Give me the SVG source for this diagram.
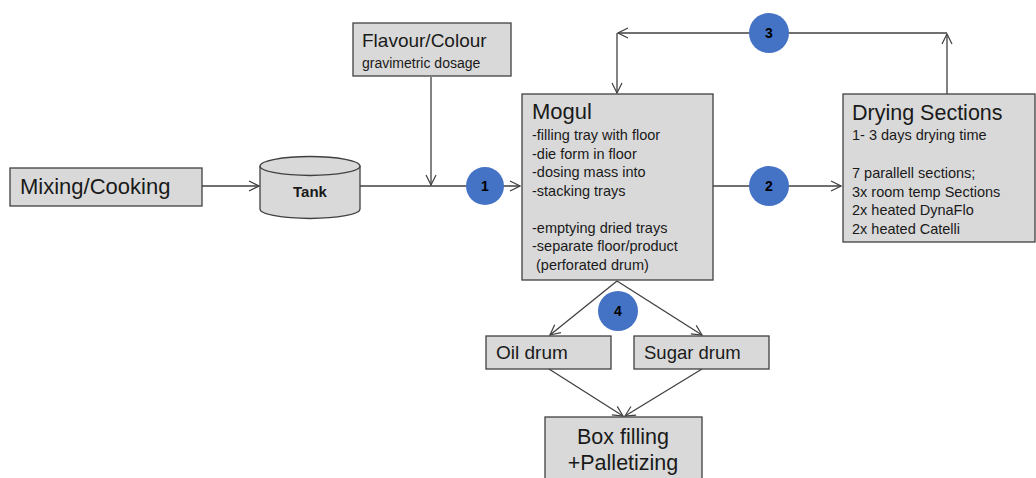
<svg xmlns="http://www.w3.org/2000/svg" width="1036" height="478" viewBox="0 0 1036 478">
<defs>
<marker id="arr" viewBox="0 0 12 12" refX="11" refY="6" markerWidth="12" markerHeight="12" markerUnits="userSpaceOnUse" orient="auto">
<path d="M1,1 L11,6 L1,11" fill="none" stroke="#404040" stroke-width="1.2"/>
</marker>
<style>
.box{fill:#d9d9d9;stroke:#404040;stroke-width:1.3}
.t{font-family:"Liberation Sans",Arial,sans-serif;fill:#1a1a1a}
.big{font-size:21.5px}
.sm{font-size:14.5px}
.ln{fill:none;stroke:#404040;stroke-width:1.3}
.c{fill:#4472c4}
.n{font-family:"Liberation Sans",Arial,sans-serif;font-size:14px;font-weight:bold;fill:#000;text-anchor:middle}
</style>
</defs>
<rect width="1036" height="478" fill="#ffffff"/>
<g id="connectors">
<line class="ln" x1="202" y1="186" x2="259" y2="186" marker-end="url(#arr)"/>
<line class="ln" x1="360" y1="186" x2="520" y2="186" marker-end="url(#arr)"/>
<line class="ln" x1="431" y1="77" x2="431" y2="185" marker-end="url(#arr)"/>
<line class="ln" x1="713" y1="186" x2="841" y2="186" marker-end="url(#arr)"/>
<line class="ln" x1="947" y1="94" x2="947" y2="34" marker-end="url(#arr)"/>
<line class="ln" x1="947" y1="33" x2="618" y2="33" marker-end="url(#arr)"/>
<line class="ln" x1="617" y1="33" x2="617" y2="93" marker-end="url(#arr)"/>
<line class="ln" x1="617" y1="281" x2="550" y2="335" marker-end="url(#arr)"/>
<line class="ln" x1="617" y1="281" x2="702" y2="335" marker-end="url(#arr)"/>
<line class="ln" x1="549" y1="369" x2="623" y2="416" marker-end="url(#arr)"/>
<line class="ln" x1="702" y1="369" x2="625" y2="416" marker-end="url(#arr)"/>
</g>
<g id="mixing">
<rect class="box" x="10" y="168" width="192" height="38"/>
<text class="t" x="20" y="194" font-size="22">Mixing/Cooking</text>
</g>
<g id="tank">
<path class="box" d="M260,166 L260,209 A50,9.5 0 0 0 360,209 L360,166"/>
<ellipse class="box" cx="310" cy="166" rx="50" ry="9.5"/>
<text class="t" x="310" y="197" font-size="15" font-weight="bold" text-anchor="middle">Tank</text>
</g>
<g id="flavour">
<rect class="box" x="353" y="23" width="158" height="53"/>
<text class="t" x="362" y="47" font-size="19">Flavour/Colour</text>
<text class="t" x="362" y="68" font-size="14">gravimetric dosage</text>
</g>
<g id="mogul">
<rect class="box" x="522" y="94" width="191" height="186"/>
<text class="t" x="532" y="119" font-size="22">Mogul</text>
<text class="t sm" x="532" y="140">-filling tray with floor</text>
<text class="t sm" x="532" y="158.5">-die form in floor</text>
<text class="t sm" x="532" y="177">-dosing mass into</text>
<text class="t sm" x="532" y="195.5">-stacking trays</text>
<text class="t sm" x="532" y="232.5">-emptying dried trays</text>
<text class="t sm" x="532" y="251">-separate floor/product</text>
<text class="t sm" x="536" y="269.5">(perforated drum)</text>
</g>
<g id="drying">
<rect class="box" x="843" y="94" width="192" height="148"/>
<text class="t" x="852" y="120" font-size="21.5">Drying Sections</text>
<text class="t sm" x="852" y="140">1- 3 days drying time</text>
<text class="t sm" x="852" y="178">7 parallell sections;</text>
<text class="t sm" x="852" y="196.5">3x room temp Sections</text>
<text class="t sm" x="852" y="215">2x heated DynaFlo</text>
<text class="t sm" x="852" y="233.5">2x heated Catelli</text>
</g>
<g id="oil">
<rect class="box" x="486" y="336" width="125" height="33"/>
<text class="t" x="496" y="359" font-size="19">Oil drum</text>
</g>
<g id="sugar">
<rect class="box" x="634" y="336" width="135" height="33"/>
<text class="t" x="644" y="359" font-size="18.5">Sugar drum</text>
</g>
<g id="box">
<rect class="box" x="545" y="417" width="157" height="70"/>
<text class="t big" x="623" y="444" text-anchor="middle">Box filling</text>
<text class="t big" x="623" y="470" text-anchor="middle">+Palletizing</text>
</g>
<g id="markers">
<circle class="c" cx="485" cy="186" r="19"/>
<text class="n" x="485" y="191">1</text>
<circle class="c" cx="769" cy="186" r="20"/>
<text class="n" x="769" y="191">2</text>
<circle class="c" cx="769" cy="33" r="20"/>
<text class="n" x="769" y="38">3</text>
<circle class="c" cx="618" cy="311" r="20"/>
<text class="n" x="618" y="316">4</text>
</g>
</svg>
